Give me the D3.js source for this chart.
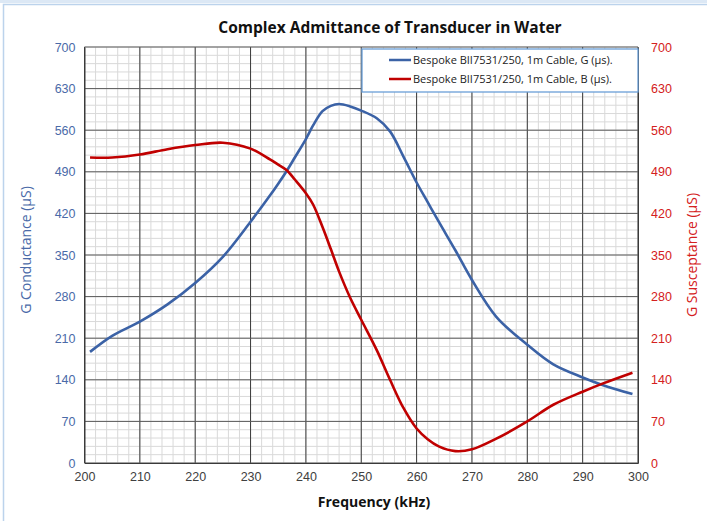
<!DOCTYPE html>
<html>
<head>
<meta charset="utf-8">
<script src="https://cdn.jsdelivr.net/npm/d3@7"></script>
<style>
  html, body { margin: 0; padding: 0; background: #fff; }
  svg { display: block; }
</style>
</head>
<body>
<div id="chart"></div>
<script>
// frequency points (kHz) and the two series (µS)
const freqs = [201, 205, 210, 215, 220, 225, 230, 233.5, 235, 236.5, 238, 240, 241.3, 243, 244.5,
    246, 248, 250, 252.8, 255.2, 257.6, 260, 262, 264, 267, 270, 274.4, 280, 284.7, 290, 293.7, 299];
const gValues = [187, 214, 238, 267, 303, 347, 406, 450, 470, 491, 514, 545, 568, 592, 601,
    604, 600, 593, 580, 558, 516, 472, 439, 406, 358, 308, 246, 199, 166, 144, 131, 116];
const bValues = [514, 514, 519, 528, 535, 539, 529, 511, 502, 493, 477, 454, 435, 397, 360,
    322, 278, 241, 190, 140, 93, 58, 40, 28, 20, 23, 41, 70, 98, 120, 134, 152];
const xTicks = [200, 210, 220, 230, 240, 250, 260, 270, 280, 290, 300];
const yTicks = [0, 70, 140, 210, 280, 350, 420, 490, 560, 630, 700];
const seriesNames = ["Bespoke BII7531/250, 1m Cable, G (\u00b5s).", "Bespoke BII7531/250, 1m Cable, B (\u00b5s)."];

const W = 707, H = 521;
const margin = { top: 47, right: 69, bottom: 58, left: 84.5 };
const width = W - margin.left - margin.right;
const height = H - margin.top - margin.bottom;

const blue = "#3b62a6", red = "#c00000";

const svg = d3.select("#chart").append("svg")
    .attr("width", W).attr("height", H);

// outer chart frame
svg.append("rect").attr("x", 0).attr("y", 0).attr("width", W).attr("height", 3).attr("fill", "#dce8f5");
svg.append("rect").attr("x", 3.5).attr("y", 4.5).attr("width", 900).attr("height", 900)
    .attr("fill", "none").attr("stroke", "#bcd3ec").attr("stroke-width", 1.5);

const g = svg.append("g").attr("transform", `translate(${margin.left},${margin.top})`);

const x = d3.scaleLinear().domain([200, 300]).range([0, width]);
const y = d3.scaleLinear().domain([0, 700]).range([height, 0]);
const y2 = d3.scaleLinear().domain([0, 700]).range([height, 0]);

// minor grid
g.append("g").selectAll("line").data(d3.range(200, 301, 2))
    .join("line")
    .attr("x1", d => x(d)).attr("x2", d => x(d)).attr("y1", 0).attr("y2", height)
    .attr("stroke", "#d9d9d9").attr("stroke-width", 1);
g.append("g").selectAll("line").data(d3.range(0, 701, 14))
    .join("line")
    .attr("y1", d => y(d)).attr("y2", d => y(d)).attr("x1", 0).attr("x2", width)
    .attr("stroke", "#d9d9d9").attr("stroke-width", 1);

// major grid
g.append("g").selectAll("line").data(xTicks)
    .join("line")
    .attr("x1", d => x(d)).attr("x2", d => x(d)).attr("y1", 0).attr("y2", height)
    .attr("stroke", "#3a3a3a").attr("stroke-width", 1);
g.append("g").selectAll("line").data(yTicks)
    .join("line")
    .attr("y1", d => y(d)).attr("y2", d => y(d)).attr("x1", 0).attr("x2", width)
    .attr("stroke", "#5a5a5a").attr("stroke-width", 1);

// axes
const xAxis = g.append("g").attr("transform", `translate(0,${height})`)
    .call(d3.axisBottom(x).tickValues(xTicks).tickSize(0).tickPadding(9));
xAxis.select(".domain").attr("stroke", "#3a3a3a");
xAxis.selectAll("text").attr("fill", "#404040")
    .style("font", "12.5px 'Liberation Sans', Arial, sans-serif");

const yAxis = g.append("g")
    .call(d3.axisLeft(y).tickValues(yTicks).tickSize(0).tickPadding(9));
yAxis.select(".domain").attr("stroke", "#3a3a3a");
yAxis.selectAll("text").attr("fill", "#4a6aa8")
    .style("font", "12.5px 'Liberation Sans', Arial, sans-serif");

const yAxis2 = g.append("g").attr("transform", `translate(${width},0)`)
    .call(d3.axisRight(y2).tickValues(yTicks).tickSize(0).tickPadding(13));
yAxis2.select(".domain").attr("stroke", "#3a3a3a");
yAxis2.selectAll("text").attr("fill", "#d42020")
    .style("font", "12.5px 'Liberation Sans', Arial, sans-serif");

// lines
const line = (vals, scale) => d3.line()
    .x((d, i) => x(freqs[i]))
    .y(d => scale(d))
    .curve(d3.curveCatmullRom.alpha(0.5))(vals);

g.append("path").attr("d", line(gValues, y))
    .attr("fill", "none").attr("stroke", blue).attr("stroke-width", 2.6);
g.append("path").attr("d", line(bValues, y2))
    .attr("fill", "none").attr("stroke", red).attr("stroke-width", 2.6);

// legend
const legend = svg.append("g");
legend.append("rect").attr("x", 362).attr("y", 49).attr("width", 276).attr("height", 43)
    .attr("fill", "#fff").attr("stroke", "#6a9fd8").attr("stroke-width", 1.3);
[blue, red].forEach((c, i) => {
    const ly = 60 + i * 19;
    legend.append("line").attr("x1", 389).attr("x2", 411).attr("y1", ly).attr("y2", ly)
        .attr("stroke", c).attr("stroke-width", 2.5);
    legend.append("text").attr("x", 413).attr("y", ly + 4)
        .style("font", "11px 'Open Sans', sans-serif").attr("fill", "#222")
        .text(seriesNames[i]);
});

// titles
svg.append("text").attr("x", 390).attr("y", 33).attr("text-anchor", "middle")
    .style("font", "bold 15.5px 'Open Sans', sans-serif").attr("fill", "#111")
    .text("Complex Admittance of Transducer in Water");
svg.append("text").attr("x", 374).attr("y", 507).attr("text-anchor", "middle")
    .style("font", "bold 14px 'Open Sans', sans-serif").attr("fill", "#111")
    .text("Frequency (kHz)");
svg.append("text").attr("transform", "translate(31,250) rotate(-90)").attr("text-anchor", "middle")
    .style("font", "14px 'Open Sans', sans-serif").attr("fill", "#4a6aa8")
    .text("G Conductance (\u00b5S)");
svg.append("text").attr("transform", "translate(697,255) rotate(-90)").attr("text-anchor", "middle")
    .style("font", "14px 'Open Sans', sans-serif").attr("fill", "#d42020")
    .text("G Susceptance (\u00b5S)");
</script>
</body>
</html>
